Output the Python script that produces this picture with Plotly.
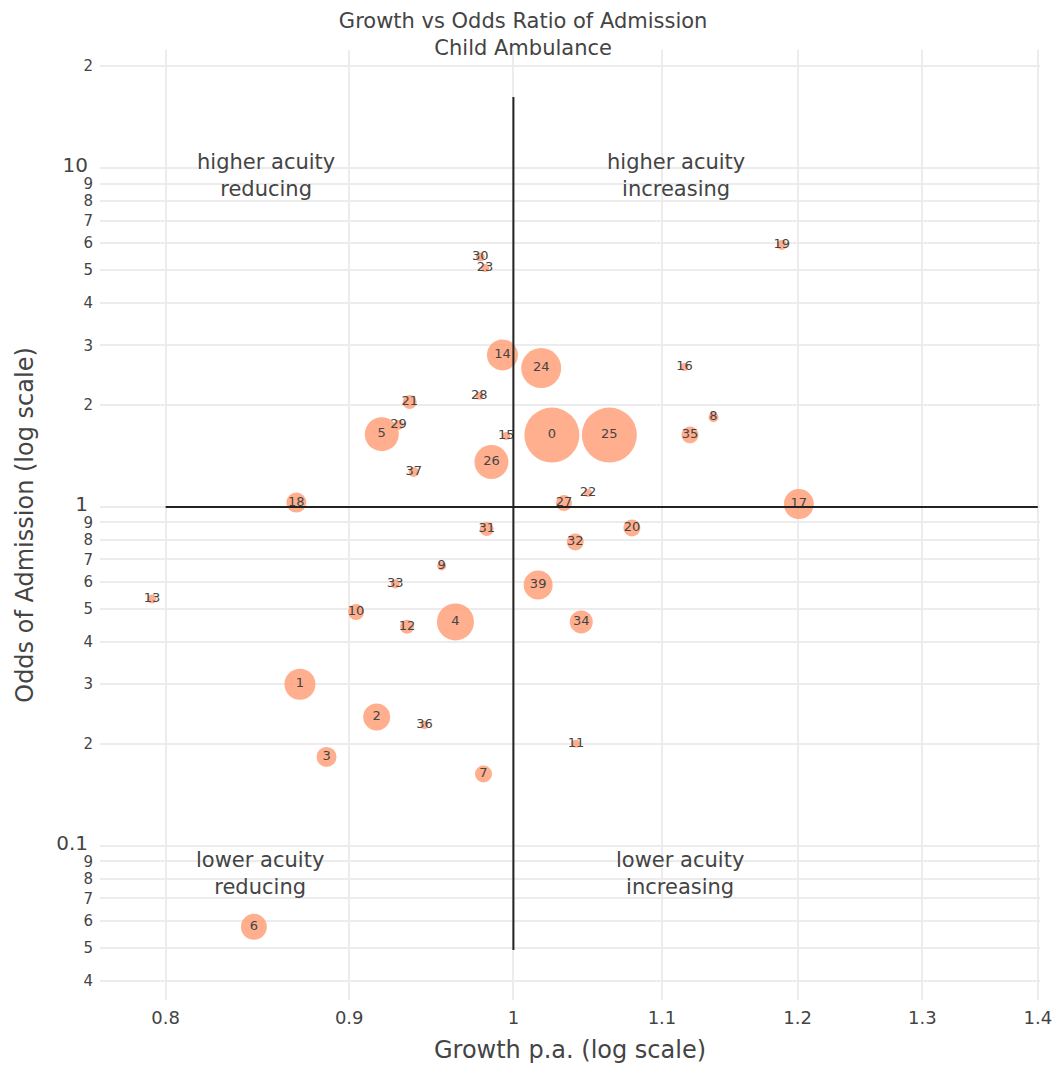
import numpy as np
import plotly.graph_objects as go

# Category ids and their growth / odds-of-admission values
ids = [0, 1, 2, 3, 4, 5, 6, 7, 8, 9, 10, 11, 12, 13, 14, 15, 16, 17, 18, 19,
       20, 21, 22, 23, 24, 25, 26, 27, 28, 29, 30, 31, 32, 33, 34, 35, 36, 37, 39]
growth = [1.025, 0.872, 0.916, 0.887, 0.9635, 0.919, 0.8466, 0.981, 1.137, 0.955,
          0.904, 1.041, 0.934, 0.793, 0.993, 0.9955, 1.116, 1.201, 0.870, 1.188,
          1.079, 0.9356, 1.049, 0.982, 1.018, 1.0635, 0.986, 1.033, 0.9784, 0.929,
          0.979, 0.983, 1.0405, 0.927, 1.0445, 1.120, 0.9445, 0.938, 1.016]
odds = [1.63, 0.300, 0.240, 0.183, 0.458, 1.64, 0.0577, 0.163, 1.84, 0.670,
        0.490, 0.200, 0.443, 0.535, 2.81, 1.62, 2.59, 1.02, 1.03, 5.93,
        0.867, 2.04, 1.10, 5.07, 2.57, 1.63, 1.357, 1.027, 2.13, 1.746,
        5.46, 0.861, 0.788, 0.593, 0.458, 1.63, 0.2275, 1.268, 0.589]
volume = [55, 31, 27, 20, 37, 34, 26, 17, 10, 9,
          16, 8, 14, 9, 31, 8, 8, 30, 20, 10,
          17, 14, 8, 8, 40, 55, 34, 16, 8, 10,
          9, 14, 17, 9, 23, 17, 8, 10, 29]

quadrant_labels = ["higher acuity<br>reducing", "higher acuity<br>increasing",
                   "lower acuity<br>reducing", "lower acuity<br>increasing"]
quadrant_x = [0.853, 1.110, 0.850, 1.113]
quadrant_y = [9.5, 9.5, 0.0827, 0.0827]

FONT = "DejaVu Sans"
TXT = "#444444"

fig = go.Figure()
fig.add_trace(go.Scatter(
    x=growth, y=odds, mode="markers+text",
    text=[str(i) for i in ids], textposition="middle center",
    textfont=dict(family=FONT, size=13, color=TXT),
    marker=dict(size=volume, sizemode="diameter", color="lightsalmon",
                opacity=0.85, line=dict(width=0)),
    hoverinfo="x+y+text", showlegend=False,
))

# quadrant dividers
fig.add_shape(type="line", x0=1, x1=1, y0=0.0493, y1=16.2,
              line=dict(color="#222222", width=2))
fig.add_shape(type="line", x0=0.8, x1=1.4, y0=1, y1=1,
              line=dict(color="#222222", width=2))

for lab, qx, qy in zip(quadrant_labels, quadrant_x, quadrant_y):
    fig.add_annotation(x=np.log10(qx), y=np.log10(qy), text=lab, showarrow=False,
                       font=dict(family=FONT, size=21, color=TXT))

fig.update_layout(
    width=1059, height=1070,
    margin=dict(l=100, r=19, t=50, b=70),
    paper_bgcolor="white", plot_bgcolor="white",
    font=dict(family=FONT, color=TXT),
    title=dict(text="Growth vs Odds Ratio of Admission<br>Child Ambulance",
               x=0.494, xanchor="center", yref="container", y=1 - 27.5 / 1070,
               yanchor="middle",
               font=dict(family=FONT, size=21, color=TXT)),
    xaxis=dict(type="log", range=[np.log10(0.767), np.log10(1.402)],
               dtick="L0.1", tick0=0, automargin=False,
               title=dict(text="Growth p.a. (log scale)", font=dict(size=24),
                          standoff=14),
               tickfont=dict(size=18), ticks="outside", ticklen=1,
               tickcolor="rgba(0,0,0,0)",
               showgrid=True, gridcolor="#ececec", gridwidth=2,
               zeroline=False, showline=False),
    yaxis=dict(type="log", range=[np.log10(0.0351), np.log10(22.3)],
               dtick="D1", automargin=False,
               title=dict(text="Odds of Admission (log scale)", font=dict(size=24)),
               tickfont=dict(size=20), ticks="outside", ticklen=2,
               tickcolor="rgba(0,0,0,0)",
               showgrid=True, gridcolor="#ececec", gridwidth=2,
               zeroline=False, showline=False),
)

fig.write_html("out.html")
